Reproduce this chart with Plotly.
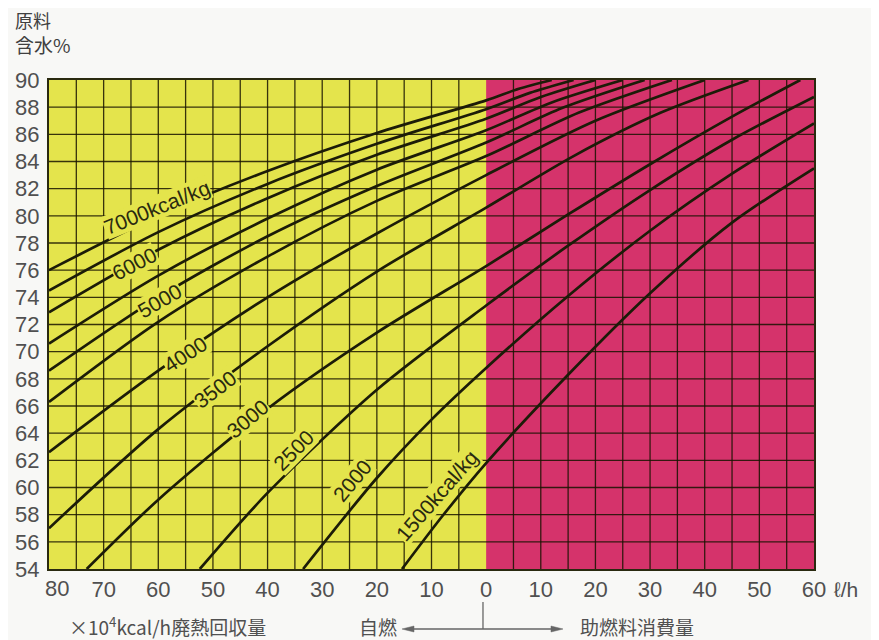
import plotly.graph_objects as go

# ---- data ----
# x: negative = waste-heat recovery (x10^4 kcal/h), positive = auxiliary fuel (l/h)
curve_names = ["7000", "6500", "6000", "5500", "5000", "4500",
               "4000", "3500", "3000", "2500", "2000", "1500"]

u_7000 = [-80, -60, -40, -20, 0, 6, 12]
y_7000 = [76.0, 80.0, 83.3, 86.1, 88.5, 89.35, 90.0]
u_6500 = [-80, -60, -40, -20, 0, 8, 16]
y_6500 = [74.5, 78.8, 82.35, 85.3, 87.85, 89.05, 90.0]
u_6000 = [-80, -60, -40, -20, 0, 10, 20]
y_6000 = [72.9, 77.5, 81.3, 84.5, 87.15, 88.75, 90.0]
u_5500 = [-80, -60, -40, -20, 0, 12, 25]
y_5500 = [70.6, 75.6, 79.8, 83.4, 86.3, 88.35, 90.0]
u_5000 = [-80, -60, -40, -20, 0, 14, 29]
y_5000 = [68.6, 74.0, 78.5, 82.2, 85.4, 87.95, 90.0]
u_4500 = [-80, -60, -40, -20, 0, 17, 34]
y_4500 = [66.3, 72.2, 77.0, 81.1, 84.4, 87.6, 90.0]
u_4000 = [-80, -60, -40, -20, 0, 20, 40]
y_4000 = [62.6, 68.6, 74.0, 78.7, 83.0, 87.0, 90.0]
u_3500 = [-80, -60, -40, -20, 0, 16, 32, 48]
y_3500 = [57.0, 64.3, 70.4, 75.9, 80.6, 84.4, 87.6, 90.0]
u_3000 = [-73.1, -60, -40, -20, 0, 15, 30, 45, 57.5]
y_3000 = [54.0, 59.1, 65.8, 71.4, 76.3, 80.1, 83.8, 87.3, 90.0]
u_2500 = [-52.4, -40, -20, 0, 15, 30, 45, 60]
y_2500 = [54.0, 59.6, 67.2, 73.4, 77.8, 81.9, 85.6, 88.75]
u_2000 = [-33.5, -20, -10, 0, 15, 30, 45, 60]
y_2000 = [54.0, 60.7, 65.0, 68.8, 74.1, 78.9, 83.1, 86.8]
u_1500 = [-15.4, -8, 0, 15, 30, 45, 60]
y_1500 = [54.0, 57.9, 61.8, 68.3, 74.3, 79.5, 83.5]

x_tickvals = [-70, -60, -50, -40, -30, -20, -10, 0, 10, 20, 30, 40, 50, 60]
x_ticktext = ["70", "60", "50", "40", "30", "20", "10", "0",
              "10", "20", "30", "40", "50", "60"]
y_tickvals = list(range(54, 91, 2))

# curve labels: text, position (x, y) and angle
label_text = ["7000kcal/kg", "6000", "5000", "4000", "3500", "3000", "2500", "2000", "1500kcal/kg"]
label_x = [-60.3, -64.3, -59.7, -55.1, -49.6, -43.6, -35.3, -24.5, -9.0]
label_y = [80.6, 76.5, 73.8, 69.8, 67.2, 65.1, 62.75, 60.5, 59.4]
label_angle = [-22, -27, -30, -33, -37, -40, -45, -50, -49]

curves = [
    (u_7000, y_7000), (u_6500, y_6500), (u_6000, y_6000), (u_5500, y_5500),
    (u_5000, y_5000), (u_4500, y_4500), (u_4000, y_4000), (u_3500, y_3500),
    (u_3000, y_3000), (u_2500, y_2500), (u_2000, y_2000), (u_1500, y_1500),
]

YELLOW = "#e4e44c"
MAGENTA = "#d5336b"
GRID = "rgba(25,20,0,0.85)"
TXT = "#505050"
LAT = "Liberation Sans, Arial, sans-serif"
CJK = "Noto Sans CJK JP, sans-serif"

fig = go.Figure()
for name, (u, y) in zip(curve_names, curves):
    fig.add_trace(go.Scatter(
        x=u, y=y, mode="lines", name=name,
        line=dict(color="#1c1c08", width=2.7, shape="spline", smoothing=0.8),
        hoverinfo="skip", showlegend=False))

shapes = [
    dict(type="rect", xref="x", yref="y", x0=-80, x1=0, y0=54, y1=90,
         fillcolor=YELLOW, line=dict(width=0), layer="below"),
    dict(type="rect", xref="x", yref="y", x0=0, x1=60, y0=54, y1=90,
         fillcolor=MAGENTA, line=dict(width=0), layer="below"),
]
for gx in range(-75, 60, 5):
    if gx == 0:
        continue
    shapes.append(dict(type="line", xref="x", yref="y", x0=gx, x1=gx, y0=54, y1=90,
                       line=dict(color=GRID, width=1.3), layer="below"))
for gy in range(56, 90, 2):
    shapes.append(dict(type="line", xref="x", yref="y", x0=-80, x1=60, y0=gy, y1=gy,
                       line=dict(color=GRID, width=1.3), layer="below"))

# bottom direction marker: vertical stem under 0, double arrow
ARW = "#666666"
shapes += [
    dict(type="line", xref="paper", yref="paper", x0=0.5673, x1=0.5673,
         y0=-0.0675, y1=-0.1227, line=dict(color=ARW, width=1.3)),
    dict(type="line", xref="paper", yref="paper", x0=0.4771, x1=0.6562,
         y0=-0.1227, y1=-0.1227, line=dict(color=ARW, width=1.3)),
    dict(type="path", xref="paper", yref="paper",
         path="M 0.4614,-0.1227 L 0.4771,-0.1166 L 0.4771,-0.1288 Z",
         fillcolor=ARW, line=dict(color=ARW, width=0.5)),
    dict(type="path", xref="paper", yref="paper",
         path="M 0.6719,-0.1227 L 0.6562,-0.1166 L 0.6562,-0.1288 Z",
         fillcolor=ARW, line=dict(color=ARW, width=0.5)),
]

annotations = []
for t, lx, ly, ang in zip(label_text, label_x, label_y, label_angle):
    annotations.append(dict(x=lx, y=ly, xref="x", yref="y", text=t, showarrow=False,
                            textangle=ang, font=dict(size=21, color="#2a2a10", family=LAT),
                            bgcolor=YELLOW, borderpad=0))

annotations += [
    dict(x=0.0105, y=-0.0389, xref="paper", yref="paper", text="80", showarrow=False,
         xanchor="center", yanchor="middle", font=dict(size=22, color=TXT, family=LAT)),
    dict(x=-0.047, y=1.1237, xref="paper", yref="paper", text="原料", showarrow=False,
         xanchor="left", yanchor="middle", font=dict(size=18, color="#404040", family=CJK)),
    dict(x=-0.047, y=1.0736, xref="paper", yref="paper", text="含水%", showarrow=False,
         xanchor="left", yanchor="middle", font=dict(size=19, color="#404040", family=CJK)),
    dict(x=1.0235, y=-0.0429, xref="paper", yref="paper", text="ℓ/h", showarrow=False,
         xanchor="left", yanchor="middle", font=dict(size=21, color=TXT, family=LAT)),
    dict(x=0.0235, y=-0.1166, xref="paper", yref="paper",
         text="×10<sup>4</sup>kcal/h廃熱回収量", showarrow=False,
         xanchor="left", yanchor="middle", font=dict(size=19, color=TXT, family=CJK)),
    dict(x=0.4026, y=-0.1166, xref="paper", yref="paper", text="自燃", showarrow=False,
         xanchor="left", yanchor="middle", font=dict(size=19, color=TXT, family=CJK)),
    dict(x=0.6915, y=-0.1166, xref="paper", yref="paper", text="助燃料消費量", showarrow=False,
         xanchor="left", yanchor="middle", font=dict(size=19, color=TXT, family=CJK)),
]

# page body has an 8px default margin, so the figure is offset by 8px
fig.update_layout(
    width=871, height=632,
    margin=dict(l=41, r=65, t=72, b=71, autoexpand=False),
    paper_bgcolor="#f8f8f6", plot_bgcolor=YELLOW,
    shapes=shapes, annotations=annotations,
    xaxis=dict(range=[-80, 60], tickvals=x_tickvals, ticktext=x_ticktext,
               showgrid=False, zeroline=False, showline=True, linecolor="#2a2a10",
               linewidth=2, mirror=True, ticks="", ticklabelstandoff=0, automargin=False,
               tickfont=dict(size=22, color=TXT, family=LAT)),
    yaxis=dict(range=[54, 90], tickvals=y_tickvals,
               showgrid=False, zeroline=False, showline=True, linecolor="#2a2a10",
               linewidth=2, mirror=True, ticks="", ticklabelstandoff=3, automargin=False,
               tickfont=dict(size=22, color=TXT, family=LAT)),
)

fig.write_html("out.html")
